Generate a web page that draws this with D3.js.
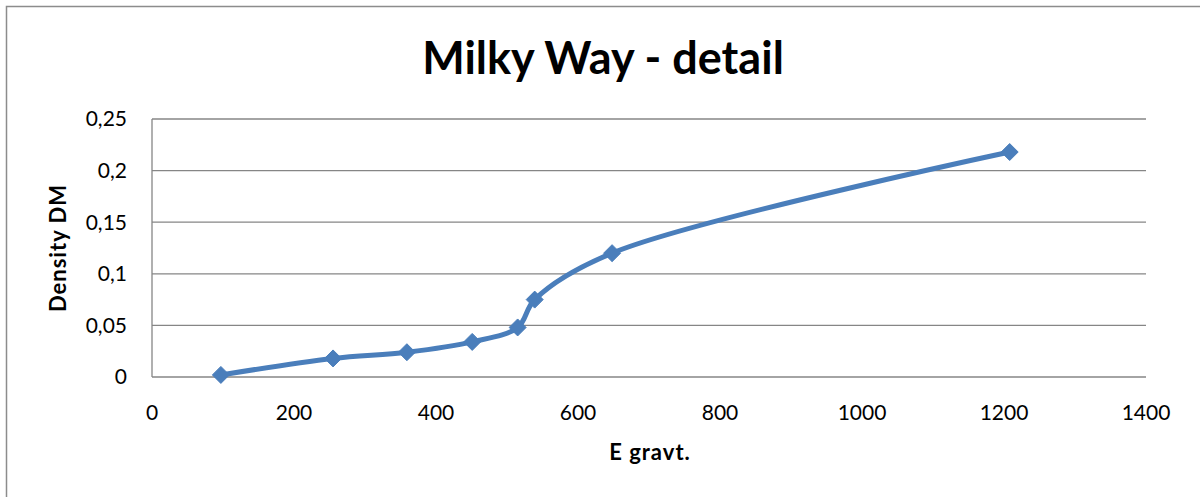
<!DOCTYPE html>
<html>
<head>
<meta charset="utf-8">
<script src="https://cdn.jsdelivr.net/npm/d3@7"></script>
<style>
  html, body { margin: 0; padding: 0; background: #fff; }
  svg { display: block; }
</style>
</head>
<body>
<svg id="chart" width="1200" height="497"></svg>
<script>
// Dark-matter density against gravitational energy (Milky Way, detail)
const eGravt   = [97, 255, 359, 451, 515, 539, 648, 1208];
const densityDM = [0.002, 0.018, 0.024, 0.034, 0.048, 0.075, 0.120, 0.218];
const xTicks = [0, 200, 400, 600, 800, 1000, 1200, 1400];
const yTicks = [0, 0.05, 0.1, 0.15, 0.2, 0.25];

const points = eGravt.map((x, i) => ({ x, y: densityDM[i] }));

const svg = d3.select("#chart");
const W = 1200, H = 497;
const plot = { left: 152, right: 1146, top: 119, bottom: 377 };
const font = "Lato, 'Open Sans', sans-serif";

// chart frame
svg.append("path")
  .attr("d", `M6.5,${H} L6.5,6.5 L${W},6.5`)
  .attr("fill", "none")
  .attr("stroke", "#8c8c8c")
  .attr("stroke-width", 1.5);

const x = d3.scaleLinear().domain([0, 1400]).range([plot.left, plot.right]);
const y = d3.scaleLinear().domain([0, 0.25]).range([plot.bottom, plot.top]);

// horizontal gridlines
svg.append("g")
  .selectAll("line")
  .data(yTicks)
  .join("line")
  .attr("x1", plot.left).attr("x2", plot.right)
  .attr("y1", d => y(d)).attr("y2", d => y(d))
  .attr("stroke", "#868686")
  .attr("stroke-width", 1.3);

// vertical axis line
svg.append("line")
  .attr("x1", plot.left).attr("x2", plot.left)
  .attr("y1", plot.top).attr("y2", plot.bottom)
  .attr("stroke", "#868686")
  .attr("stroke-width", 1.3);

const fmt = d => String(+d.toFixed(2)).replace(".", ",");

// y tick labels
svg.append("g")
  .selectAll("text")
  .data(yTicks)
  .join("text")
  .attr("x", plot.left - 25)
  .attr("y", d => y(d))
  .attr("dy", "0.35em")
  .attr("text-anchor", "end")
  .attr("font-family", font)
  .attr("font-size", 21)
  .attr("fill", "#000")
  .text(fmt);

// x tick labels
svg.append("g")
  .selectAll("text")
  .data(xTicks)
  .join("text")
  .attr("x", d => x(d))
  .attr("y", 420)
  .attr("text-anchor", "middle")
  .attr("font-family", font)
  .attr("font-size", 21)
  .attr("fill", "#000")
  .text(d => d);

// title
svg.append("text")
  .attr("x", 603).attr("y", 74)
  .attr("text-anchor", "middle")
  .attr("font-family", font)
  .attr("font-weight", "bold")
  .attr("font-size", 45)
  .text("Milky Way - detail");

// axis titles
svg.append("text")
  .attr("x", 650).attr("y", 460)
  .attr("text-anchor", "middle")
  .attr("font-family", font)
  .attr("font-weight", "bold")
  .attr("font-size", 22)
  .attr("letter-spacing", 1)
  .text("E gravt.");

svg.append("text")
  .attr("transform", "translate(66,248) rotate(-90)")
  .attr("text-anchor", "middle")
  .attr("font-family", font)
  .attr("font-weight", "bold")
  .attr("font-size", 22)
  .attr("letter-spacing", 1)
  .text("Density DM");

// smoothed series line
const line = d3.line()
  .x(d => x(d.x))
  .y(d => y(d.y))
  .curve(d3.curveCatmullRom.alpha(0.5));

svg.append("path")
  .datum(points)
  .attr("d", line)
  .attr("fill", "none")
  .attr("stroke", "#4a7ebb")
  .attr("stroke-width", 5)
  .attr("stroke-linejoin", "round");

// diamond markers
const r = 8.5;
svg.append("g")
  .selectAll("path")
  .data(points)
  .join("path")
  .attr("transform", d => `translate(${x(d.x)},${y(d.y)})`)
  .attr("d", `M0,${-r} L${r},0 L0,${r} L${-r},0 Z`)
  .attr("fill", "#4a7ebb")
  .attr("stroke", "#4a7ebb")
  .attr("stroke-width", 1);
</script>
</body>
</html>
